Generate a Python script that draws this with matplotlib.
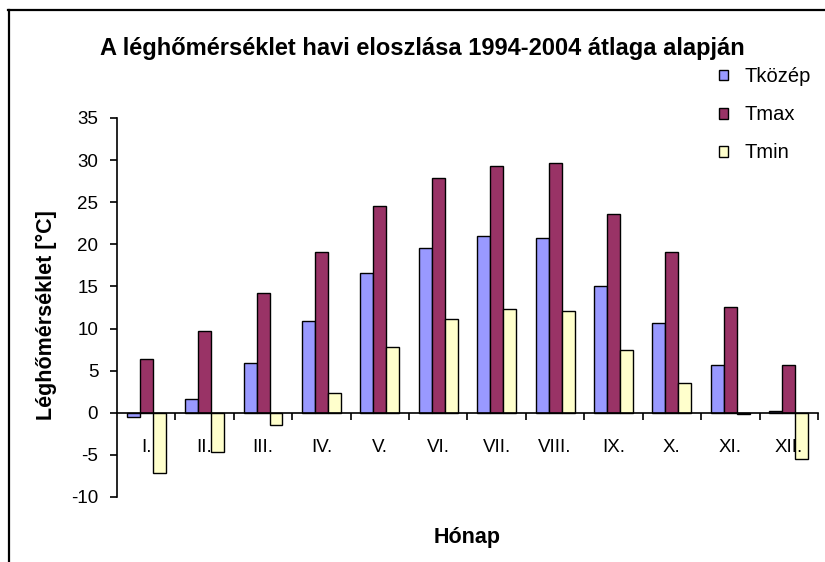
import numpy as np
import matplotlib.pyplot as plt
from matplotlib.lines import Line2D
from matplotlib.ticker import FixedLocator

plt.rcParams['font.family'] = ['Liberation Sans', 'DejaVu Sans']
plt.rcParams['axes.unicode_minus'] = False

months = ["I.", "II.", "III.", "IV.", "V.", "VI.", "VII.", "VIII.", "IX.", "X.", "XI.", "XII."]
t_kozep = [-0.5, 1.6, 5.9, 10.9, 16.6, 19.6, 21.0, 20.8, 15.1, 10.7, 5.7, 0.2]
t_max = [6.4, 9.7, 14.2, 19.1, 24.5, 27.9, 29.3, 29.6, 23.6, 19.1, 12.5, 5.7]
t_min = [-7.1, -4.7, -1.4, 2.3, 7.8, 11.1, 12.3, 12.1, 7.4, 3.5, -0.2, -5.5]

series = [("Tközép", t_kozep, "#9999FF"),
          ("Tmax", t_max, "#993366"),
          ("Tmin", t_min, "#FFFFCC")]

fig = plt.figure(figsize=(8.25, 5.62), dpi=100)
ax = fig.add_axes([0.1418, 0.1157, 0.8497, 0.6744])

x = np.arange(len(months))
w = 0.222
for i, (name, vals, col) in enumerate(series):
    ax.bar(x + (i - 1) * w, vals, w, color=col, edgecolor="black",
           linewidth=1.0, label=name)

ax.set_xlim(-0.5, len(months) - 0.5)
ax.set_ylim(-10, 35)
ax.set_yticks(np.arange(-10, 36, 5))

# spines
for s in ["top", "right"]:
    ax.spines[s].set_visible(False)
ax.spines["bottom"].set_position(("data", 0))
ax.spines["left"].set_linewidth(1.2)
ax.spines["bottom"].set_linewidth(1.2)

# labels at category centres, tick marks at the boundaries
ax.set_xticks(x)
ax.set_xticklabels(months, fontsize=13.5)
ax.tick_params(axis="x", which="major", length=0, pad=19)
ax.xaxis.set_minor_locator(FixedLocator(np.arange(0.5, len(months), 1.0)))
ax.tick_params(axis="x", which="minor", length=5, width=1.2, direction="out")
ax.tick_params(axis="y", length=5, width=1.2, labelsize=13.5, pad=8.5)

ax.set_ylabel("Léghőmérséklet [°C]", fontsize=15.5, fontweight="bold")
ax.yaxis.set_label_coords(-0.0857, 0.48)

fig.text(0.5115, 0.9135, "A léghőmérséklet havi eloszlása 1994-2004 átlaga alapján",
         ha="center", va="center", fontsize=17, fontweight="bold")
fig.text(0.566, 1 - 537 / 562, "Hónap", ha="center", va="center",
         fontsize=15.5, fontweight="bold")

fig.legend(loc="upper left", bbox_to_anchor=(0.8715, 0.8805), frameon=False,
           fontsize=14.5, handlelength=0.45, handleheight=0.45, handletextpad=0.8,
           labelspacing=0.95, borderpad=0, borderaxespad=0)

# chart border (top and left visible)
fig.add_artist(Line2D([8 / 825, 1.0], [1 - 10 / 562, 1 - 10 / 562],
                      transform=fig.transFigure, color="black", linewidth=1.6))
fig.add_artist(Line2D([9 / 825, 9 / 825], [0.0, 1 - 10 / 562],
                      transform=fig.transFigure, color="black", linewidth=1.6))

fig.savefig("out.png", dpi=100)
